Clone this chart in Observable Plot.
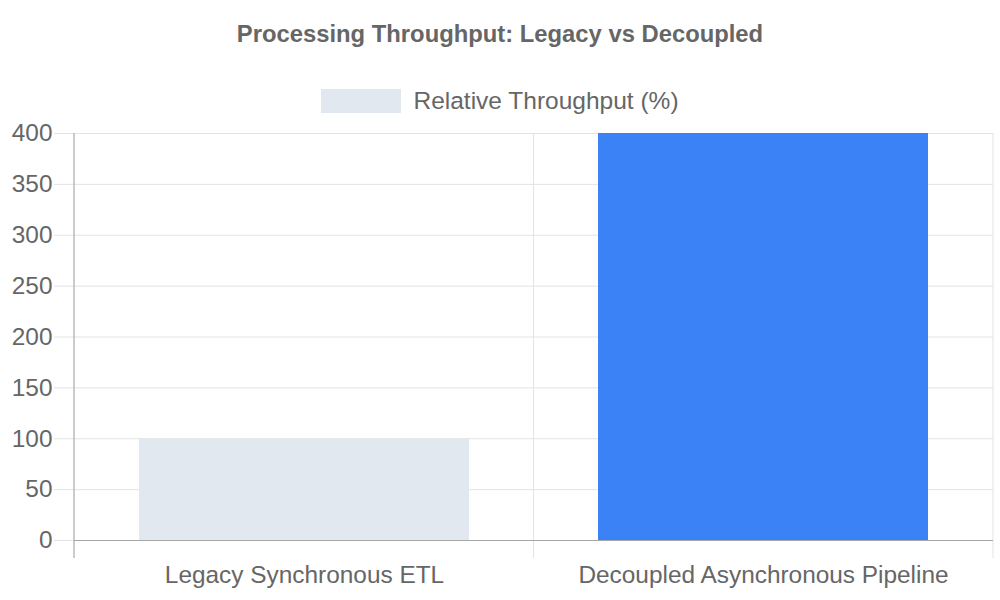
<!DOCTYPE html>
<html>
<head>
<meta charset="utf-8">
<script src="https://cdn.jsdelivr.net/npm/d3@7"></script>
<script src="https://cdn.jsdelivr.net/npm/@observablehq/plot@0.6"></script>
<style>
  html, body { margin: 0; padding: 0; background: #fff; }
  body { width: 1000px; height: 600px; overflow: hidden; font-family: "Liberation Sans", Arial, sans-serif; }
  #title { height: 68px; line-height: 68px; text-align: center; font-weight: bold; font-size: 23.8px; color: #666; }
  #legend { height: 52px; box-sizing: border-box; padding-top: 21px; display: flex; justify-content: center; align-items: flex-start; }
  #legend .swatch { width: 80px; height: 24px; display: inline-block; }
  #legend .label { margin-left: 12px; font-size: 24.5px; line-height: 24px; color: #666; }
  #chart svg { display: block; }
</style>
</head>
<body>
<div id="title"></div>
<div id="legend"></div>
<div id="chart"></div>
<script>
const title = "Processing Throughput: Legacy vs Decoupled";
const seriesName = "Relative Throughput (%)";
const categories = ["Legacy Synchronous ETL", "Decoupled Asynchronous Pipeline"];
const values = [100, 400];
const colors = ["#e2e8f0", "#3b82f6"];
const yTicks = [0, 50, 100, 150, 200, 250, 300, 350, 400];

document.getElementById("title").textContent = title;
const legend = document.getElementById("legend");
const sw = document.createElement("span");
sw.className = "swatch";
sw.style.background = colors[0];
const lb = document.createElement("span");
lb.className = "label";
lb.textContent = seriesName;
legend.append(sw, lb);

const data = categories.map((c, i) => ({category: c, value: values[i], color: colors[i]}));

const gridColor = "#e3e3e3";
const axisColor = "#a6a6a6";
const tickLen = 18;

// vertical grid lines at category band boundaries (Chart.js style offset grid)
const bandGrid = (index, scales, vals, dims) => {
  const g = d3.create("svg:g");
  const left = dims.marginLeft, right = dims.width - dims.marginRight;
  const top = dims.marginTop, bottom = dims.height - dims.marginBottom;
  const n = categories.length;
  d3.range(n + 1).forEach(i => {
    const x = left + i * (right - left) / n;
    g.append("line")
      .attr("x1", x).attr("x2", x)
      .attr("y1", top).attr("y2", bottom + tickLen)
      .attr("stroke", gridColor);
  });
  return g.node();
};
const yAxisLine = (index, scales, vals, dims) => {
  const x = dims.marginLeft;
  return d3.create("svg:line")
    .attr("x1", x).attr("x2", x)
    .attr("y1", dims.marginTop).attr("y2", dims.height - dims.marginBottom + tickLen)
    .attr("stroke", axisColor).node();
};

const chart = Plot.plot({
  width: 1000,
  height: 480,
  marginTop: 13,
  marginBottom: 60,
  marginLeft: 74,
  marginRight: 7,
  style: {fontFamily: "'Liberation Sans', Arial, sans-serif", background: "#fff"},
  x: {domain: categories, paddingInner: 0.28, paddingOuter: 0.14, label: null},
  y: {domain: [0, 400], label: null},
  color: {type: "identity"},
  marks: [
    bandGrid,
    Plot.gridY(yTicks, {stroke: gridColor, strokeOpacity: 1}),
    Plot.barY(data, {x: "category", y: "value", fill: "color"}),
    Plot.axisY(yTicks, {tickSize: 20, tickPadding: 2, fontSize: 24.4, fill: "#666", stroke: gridColor, label: null}),
    Plot.axisX({tickSize: 0, tickPadding: 25, fontSize: 24.4, fill: "#666", label: null}),
    Plot.ruleY([0], {stroke: axisColor}),
    yAxisLine
  ]
});
document.getElementById("chart").append(chart);
</script>
</body>
</html>
